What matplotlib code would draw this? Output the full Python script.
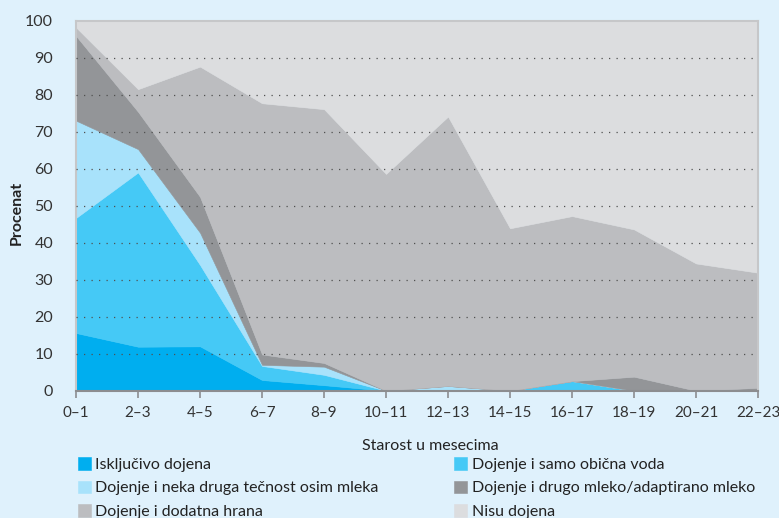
import matplotlib.pyplot as plt
import numpy as np

plt.rcParams['font.family'] = ['Lato', 'DejaVu Sans']

ages = ["0–1", "2–3", "4–5", "6–7", "8–9", "10–11", "12–13", "14–15",
        "16–17", "18–19", "20–21", "22–23"]

iskljucivo = [15.6, 11.9, 12.0, 2.9, 1.5, 0, 0, 0, 0, 0, 0, 0]
voda = [31.1, 47.1, 22.0, 3.8, 2.8, 0, 0, 0, 2.6, 0, 0, 0]
tecnost = [26.3, 6.3, 8.7, 0.3, 2.2, 0, 1.3, 0, 0, 0, 0, 0]
mleko = [22.9, 10.1, 9.7, 2.8, 1.0, 0, 0, 0, 0, 3.8, 0, 0.8]
hrana = [2.3, 6.1, 35.2, 67.9, 68.6, 58.6, 72.8, 43.9, 44.6, 39.8, 34.4, 31.1]
nisu = [1.8, 18.5, 12.4, 22.3, 23.9, 41.4, 25.9, 56.1, 52.8, 56.4, 65.6, 68.1]

labels = ["Isključivo dojena", "Dojenje i samo obična voda",
          "Dojenje i neka druga tečnost osim mleka",
          "Dojenje i drugo mleko/adaptirano mleko",
          "Dojenje i dodatna hrana", "Nisu dojena"]
colors = ["#00aeef", "#45c9f6", "#a8e2fb", "#939598", "#bcbdc0", "#dcdddf"]

bg = "#dff1fc"
fs = 11.5
fig = plt.figure(figsize=(7.79, 5.18), dpi=100, facecolor=bg)
ax = fig.add_axes([0.0976, 0.2457, 0.8755, 0.7143])
ax.set_facecolor(bg)

x = np.arange(len(ages))
polys = ax.stackplot(x, iskljucivo, voda, tecnost, mleko, hrana, nisu,
                     colors=colors, labels=labels, linewidth=0.4, edgecolor="face")

# dotted grid lines drawn over the areas
for yv in range(10, 100, 10):
    ax.axhline(yv, color="#505050", linestyle=(0, (1, 5)), linewidth=0.9, zorder=5)

ax.set_xlim(0, 11)
ax.set_ylim(0, 100)
ax.set_xticks(x)
ax.set_xticklabels(ages)
ax.set_yticks(range(0, 101, 10))

for s in ["top", "right", "left"]:
    ax.spines[s].set_color("#c6c7c9")
    ax.spines[s].set_linewidth(1.5)
ax.spines["bottom"].set_color("#8c8d90")
ax.spines["bottom"].set_linewidth(1.5)
ax.spines["bottom"].set_zorder(6)

ax.tick_params(axis="x", direction="out", length=5, width=1.2, color="#8c8d90",
               labelsize=11, labelcolor="#333333", pad=6)
ax.tick_params(axis="y", length=0, labelsize=fs, labelcolor="#333333", pad=16.5)

ax.set_xlabel("Starost u mesecima", fontsize=fs, color="#222222")
ax.xaxis.set_label_coords(0.52, -0.13)
ax.set_ylabel("Procenat", fontsize=fs, color="#222222", fontweight="bold")
ax.yaxis.set_label_coords(-0.077, 0.48)

handles = polys
common = dict(loc="upper left", frameon=False, fontsize=fs, handlelength=0.8,
              handleheight=0.8, handletextpad=0.3, labelspacing=0.55,
              borderaxespad=0, borderpad=0)
leg1 = fig.legend([handles[0], handles[2], handles[4]],
                  [labels[0], labels[2], labels[4]],
                  bbox_to_anchor=(0.1, 0.117), **common)
leg2 = fig.legend([handles[1], handles[3], handles[5]],
                  [labels[1], labels[3], labels[5]],
                  bbox_to_anchor=(0.583, 0.117), **common)
for lg in (leg1, leg2):
    for t in lg.get_texts():
        t.set_color("#222222")

fig.savefig("out.png", dpi=100, facecolor=bg)
